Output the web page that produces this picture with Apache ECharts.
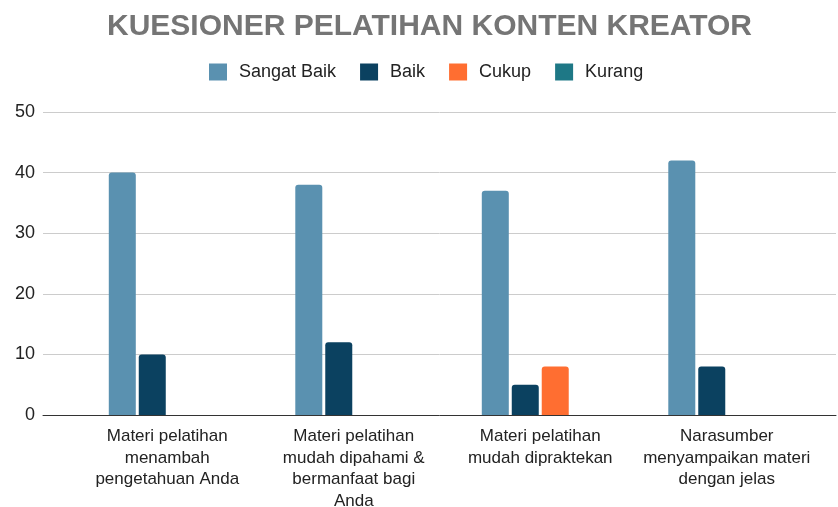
<!DOCTYPE html>
<html>
<head>
<meta charset="utf-8">
<script src="https://cdn.jsdelivr.net/npm/echarts@6/dist/echarts.min.js"></script>
<style>html,body{margin:0;padding:0;background:#fff}#c{width:838px;height:507px}</style>
</head>
<body>
<div id="c"></div>
<script>
const titleText = 'KUESIONER PELATIHAN KONTEN KREATOR';
const categories = [
  'Materi pelatihan\nmenambah\npengetahuan Anda',
  'Materi pelatihan\nmudah dipahami &\nbermanfaat bagi\nAnda',
  'Materi pelatihan\nmudah dipraktekan',
  'Narasumber\nmenyampaikan materi\ndengan jelas'
];
const seriesNames = ['Sangat Baik', 'Baik', 'Cukup', 'Kurang'];
const sangatBaik = [40, 38, 37, 42];
const baik = [10, 12, 5, 8];
const cukup = [0, 0, 8, 0];
const kurang = [0, 0, 0, 0];
const colors = ['#5a91b0', '#0b4160', '#ff6e31', '#1e7886'];
const yTicks = {min: 0, max: 50, interval: 10};

const chart = echarts.init(document.getElementById('c'), null, {renderer: 'canvas'});
const font = 'Liberation Sans, Arial, sans-serif';
const dataSets = [sangatBaik, baik, cukup, kurang];
chart.setOption({
  animation: false,
  color: colors,
  title: {
    text: titleText, left: 102, top: 7,
    textStyle: {fontFamily: font, fontSize: 30, fontWeight: 'bold', color: '#757575'}
  },
  legend: {
    data: seriesNames, left: 209, top: 63, icon: 'rect',
    itemWidth: 18, itemHeight: 17, itemGap: 24, padding: 0,
    textStyle: {fontFamily: font, fontSize: 18, color: '#222', padding: [0, 0, 0, 7]}
  },
  grid: [
    {left: 43, right: 2, top: 112, bottom: 92, outerBoundsMode: 'none', containLabel: false},
    {left: 74, right: 18, top: 112, bottom: 92, outerBoundsMode: 'none', containLabel: false}
  ],
  xAxis: [
    {type: 'value', gridIndex: 0, min: 0, max: 1, axisLabel: {show: false}, axisTick: {show: false},
     splitLine: {show: false}, axisLine: {show: true, lineStyle: {color: '#333', width: 1}}},
    {type: 'category', gridIndex: 1, data: categories, axisLine: {show: false}, axisTick: {show: false},
     axisLabel: {interval: 0, margin: 11, fontFamily: font, fontSize: 17, lineHeight: 21.5, color: '#222', align: 'center'}}
  ],
  yAxis: [
    {type: 'value', gridIndex: 0, min: yTicks.min, max: yTicks.max, interval: yTicks.interval,
     axisLine: {show: false}, axisTick: {show: false},
     axisLabel: {margin: 8, fontFamily: font, fontSize: 18, color: '#222'},
     splitLine: {lineStyle: {color: '#cccccc', width: 1}}},
    {type: 'value', gridIndex: 1, min: yTicks.min, max: yTicks.max, interval: yTicks.interval, show: false}
  ],
  series: seriesNames.map((n, i) => ({
    name: n, type: 'bar', xAxisIndex: 1, yAxisIndex: 1,
    data: dataSets[i], barWidth: 27, barGap: '11%',
    itemStyle: {color: colors[i], borderRadius: [3, 3, 0, 0]}
  }))
});
</script>
</body>
</html>
